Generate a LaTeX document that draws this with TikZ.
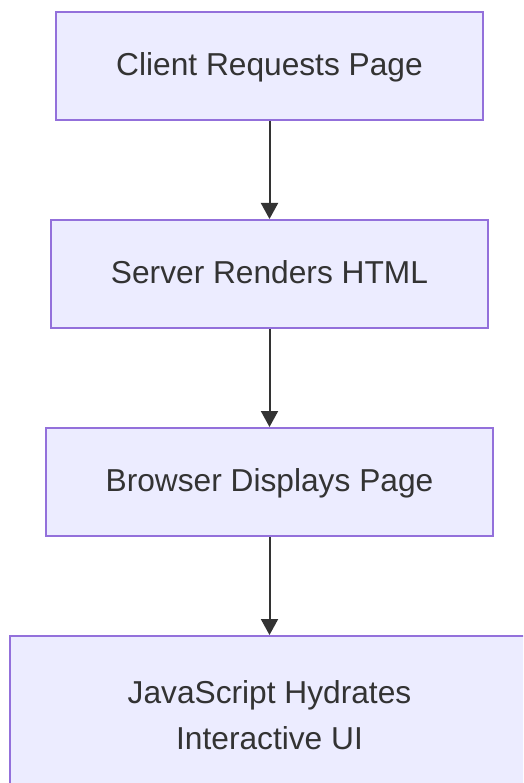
\documentclass[tikz,border=0pt]{standalone}
\usepackage{fontspec}
\setmainfont{Liberation Sans}
\usepackage{tikz}
\usetikzlibrary{arrows.meta,positioning}
\definecolor{boxfill}{HTML}{ECECFF}
\definecolor{boxline}{HTML}{9370DB}
\definecolor{ink}{HTML}{333333}
\tikzstyle{stage} = [rectangle, draw=boxline, line width=2pt, fill=boxfill, text=ink, align=center, font=\fontsize{31.7pt}{46pt}\selectfont, minimum height=108pt, inner xsep=60pt, text depth=3pt]
\tikzstyle{tedge} = [draw=ink, line width=2pt, -{Triangle[length=16pt,width=17pt]}]

\begin{document}
\begin{tikzpicture}[auto]
\useasboundingbox (0,0) rectangle (523pt,-783pt);
\clip (0,0) rectangle (523pt,-783pt);

% request flow =============================
\node[stage] (client) at (269.5pt,-66pt) {Client Requests Page};
\node[stage, below=98pt of client] (server) {Server Renders HTML};
\node[stage, below=98pt of server] (browser) {Browser Displays Page};
\node[stage, below=98pt of browser, minimum height=158pt, minimum width=520pt, text depth=0pt] (hydrate) {JavaScript Hydrates\\Interactive UI};

% edges
\path[tedge] (client) -- (server);
\path[tedge] (server) -- (browser);
\path[tedge] (browser) -- (hydrate);

\end{tikzpicture}
\end{document}
